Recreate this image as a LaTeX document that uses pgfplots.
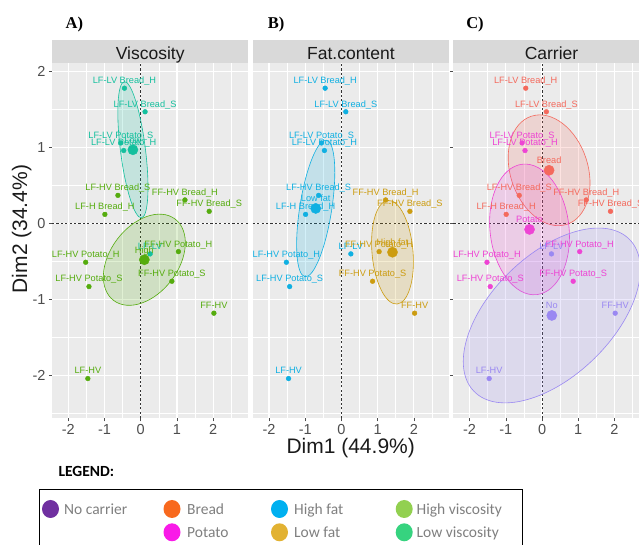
\documentclass[border=0pt]{standalone}
\usepackage{fontspec}
\setmainfont{Liberation Sans}
\newfontfamily\serifb{Liberation Serif}
\newfontfamily\carlito{Carlito}
\usepackage{pgfplots}
\pgfplotsset{compat=1.18}

\definecolor{panelbg}{HTML}{EBEBEB}
\definecolor{stripbg}{HTML}{D9D9D9}
\definecolor{tickgray}{HTML}{4D4D4D}
\definecolor{titleblk}{HTML}{1A1A1A}
\definecolor{cHV}{HTML}{55AC0E}
\definecolor{cLV}{HTML}{14C09E}
\definecolor{cLF}{HTML}{10B0E2}
\definecolor{cHF}{HTML}{CC9C10}
\definecolor{cBR}{HTML}{F4695C}
\definecolor{cPO}{HTML}{EE44D4}
\definecolor{cNO}{HTML}{9A88F2}
\definecolor{lgNO}{HTML}{7030A0}
\definecolor{lgBR}{HTML}{F8691E}
\definecolor{lgPO}{HTML}{F91AE8}
\definecolor{lgHF}{HTML}{00B0F0}
\definecolor{lgLF}{HTML}{E2B232}
\definecolor{lgHV}{HTML}{92D050}
\definecolor{lgLV}{HTML}{36D37F}
\definecolor{lgtext}{HTML}{7F7F7F}

\tikzset{
  ell/.style={draw=#1, fill=#1, fill opacity=0.18, line width=0.6bp},
  zline/.style={draw=black!80, line width=0.75bp, dash pattern=on 2.2bp off 2.2bp},
}
\pgfplotsset{
  panel/.style={
    scale only axis, width=196.3bp, height=354.8bp, anchor=south west,
    xmin=-2.45, xmax=2.97, ymin=-2.563, ymax=2.105,
    clip=false,
    axis background/.style={fill=panelbg},
    axis line style={draw=none},
    xtick={-2,-1,0,1,2}, ytick={-2,-1,0,1,2},
    minor xtick={-1.5,-0.5,0.5,1.5,2.5},
    minor ytick={-2.5,-1.5,-0.5,0.5,1.5},
    grid=both,
    major grid style={white, line width=1.1bp},
    minor grid style={white, line width=0.55bp},
    tick align=outside, tick pos=left,
    major tick length=3bp, minor tick length=0pt,
    tick style={color=tickgray, line width=0.55bp},
    xticklabels={-2,-1,0,1,2},
    ticklabel style={font=\fontsize{14.5bp}{16bp}\selectfont, text=tickgray},
  },
  ind/.style={only marks, color=#1, mark=*, mark size=2.4bp,
    mark options={solid, draw=#1, fill=#1},
    point meta=explicit symbolic, nodes near coords,
    nodes near coords style={font=\fontsize{9.2bp}{10bp}\selectfont, text=#1, anchor=base, inner sep=0pt, yshift=4.6bp}},
  cen/.style={only marks, color=#1, mark=*, mark size=5.1bp,
    mark options={solid, draw=#1, fill=#1},
    point meta=explicit symbolic, nodes near coords,
    nodes near coords style={font=\fontsize{9.2bp}{10bp}\selectfont, text=#1, anchor=base, inner sep=0pt, yshift=6.5bp}},
}

\begin{document}
\begin{tikzpicture}
\useasboundingbox (0,0) rectangle (639bp,545bp);

% ---------------- Panel A: Viscosity ----------------
\begin{axis}[panel, at={(52bp,126.7bp)}, yticklabels={-2,-1,0,1,2}]
\addplot[zline] coordinates {(0,-2.563) (0,2.105)};
\addplot[zline] coordinates {(-2.45,0) (2.97,0)};
\draw[ell=cLV] (axis cs:-0.216,0.97) ellipse [x radius=68.6bp, y radius=12.5bp, rotate=97.2];
\draw[ell=cHV] (axis cs:0.10,-0.477) ellipse [x radius=51bp, y radius=34bp, rotate=53];
\addplot[ind=cLV] coordinates {(-0.45,1.78) [LF-LV Bread\_H] (0.12,1.47) [LF-LV Bread\_S] (-0.55,1.06) [LF-LV Potato\_S] (-0.47,0.96) [LF-LV Potato\_H] (0.26,-0.40) [LF-LV]};
\addplot[ind=cHV] coordinates {(-0.63,0.37) [LF-HV Bread\_S] (1.22,0.31) [FF-HV Bread\_H] (-0.99,0.12) [LF-H Bread\_H] (1.89,0.16) [FF-HV Bread\_S] (1.04,-0.37) [FF-HV Potato\_H] (-1.52,-0.51) [LF-HV Potato\_H] (-1.43,-0.83) [LF-HV Potato\_S] (0.86,-0.76) [FF-HV Potato\_S] (2.02,-1.18) [FF-HV] (-1.46,-2.04) [LF-HV]};
\addplot[cen=cLV] coordinates {(-0.216,0.97) [Low]};
\addplot[cen=cHV] coordinates {(0.10,-0.477) [High]};
\end{axis}

% ---------------- Panel B: Fat.content ----------------
\begin{axis}[panel, at={(252.7bp,126.7bp)}, yticklabels={}, ytick style={draw=none}]
\addplot[zline] coordinates {(0,-2.563) (0,2.105)};
\addplot[zline] coordinates {(-2.45,0) (2.97,0)};
\draw[ell=cLF] (axis cs:-0.71,0.198) ellipse [x radius=69.1bp, y radius=16bp, rotate=81.1];
\draw[ell=cHF] (axis cs:1.41,-0.378) ellipse [x radius=52bp, y radius=20.5bp, rotate=95];
\addplot[ind=cLF] coordinates {(-0.45,1.78) [LF-LV Bread\_H] (0.12,1.47) [LF-LV Bread\_S] (-0.55,1.06) [LF-LV Potato\_S] (-0.47,0.96) [LF-LV Potato\_H] (0.26,-0.40) [LF-LV] (-0.63,0.37) [LF-HV Bread\_S] (-0.99,0.12) [LF-H Bread\_H] (-1.52,-0.51) [LF-HV Potato\_H] (-1.43,-0.83) [LF-HV Potato\_S] (-1.46,-2.04) [LF-HV]};
\addplot[ind=cHF] coordinates {(1.22,0.31) [FF-HV Bread\_H] (1.89,0.16) [FF-HV Bread\_S] (1.04,-0.37) [FF-HV Potato\_H] (0.86,-0.76) [FF-HV Potato\_S] (2.02,-1.18) [FF-HV]};
\addplot[cen=cLF] coordinates {(-0.71,0.198) [Low fat]};
\addplot[cen=cHF] coordinates {(1.41,-0.378) [High fat]};
\end{axis}

% ---------------- Panel C: Carrier ----------------
\begin{axis}[panel, at={(453.3bp,126.7bp)}, yticklabels={}]
\addplot[zline] coordinates {(0,-2.563) (0,2.105)};
\addplot[zline] coordinates {(-2.45,0) (2.97,0)};
\draw[ell=cBR] (axis cs:0.195,0.70) ellipse [x radius=56.9bp, y radius=38.8bp, rotate=108.2];
\draw[ell=cPO] (axis cs:-0.345,-0.078) ellipse [x radius=65.6bp, y radius=39.5bp, rotate=96.3];
\draw[ell=cNO] (axis cs:0.27,-1.21) ellipse [x radius=108.7bp, y radius=60.5bp, rotate=44.3];
\addplot[ind=cBR] coordinates {(-0.45,1.78) [LF-LV Bread\_H] (0.12,1.47) [LF-LV Bread\_S] (-0.63,0.37) [LF-HV Bread\_S] (1.22,0.31) [FF-HV Bread\_H] (-0.99,0.12) [LF-H Bread\_H] (1.89,0.16) [FF-HV Bread\_S]};
\addplot[ind=cPO] coordinates {(-0.55,1.06) [LF-LV Potato\_S] (-0.47,0.96) [LF-LV Potato\_H] (1.04,-0.37) [FF-HV Potato\_H] (-1.52,-0.51) [LF-HV Potato\_H] (-1.43,-0.83) [LF-HV Potato\_S] (0.86,-0.76) [FF-HV Potato\_S]};
\addplot[ind=cNO] coordinates {(0.26,-0.40) [LF-LV] (2.02,-1.18) [FF-HV] (-1.46,-2.04) [LF-HV]};
\addplot[cen=cBR] coordinates {(0.195,0.70) [Bread]};
\addplot[cen=cPO] coordinates {(-0.345,-0.078) [Potato]};
\addplot[cen=cNO] coordinates {(0.27,-1.21) [No]};
\end{axis}

% strips
\fill[stripbg] (52bp,481.5bp) rectangle (248.3bp,505bp);
\fill[stripbg] (252.7bp,481.5bp) rectangle (449bp,505bp);
\fill[stripbg] (453.3bp,481.5bp) rectangle (649.6bp,505bp);
\node[anchor=base, inner sep=0pt, text=titleblk, font=\fontsize{17.5bp}{20bp}\selectfont] at (150.2bp,485.3bp) {Viscosity};
\node[anchor=base, inner sep=0pt, text=titleblk, font=\fontsize{17.5bp}{20bp}\selectfont] at (350.9bp,485.3bp) {Fat.content};
\node[anchor=base, inner sep=0pt, text=titleblk, font=\fontsize{17.5bp}{20bp}\selectfont] at (551.5bp,485.3bp) {Carrier};

% panel letters
\node[anchor=base, inner sep=0pt, font=\serifb\bfseries\fontsize{16.5bp}{18bp}\selectfont] at (74.3bp,516.7bp) {A)};
\node[anchor=base, inner sep=0pt, font=\serifb\bfseries\fontsize{16.5bp}{18bp}\selectfont] at (276bp,516.7bp) {B)};
\node[anchor=base, inner sep=0pt, font=\serifb\bfseries\fontsize{16.5bp}{18bp}\selectfont] at (475bp,516.7bp) {C)};

% axis titles
\node[anchor=base, inner sep=0pt, text=titleblk, font=\fontsize{21bp}{24bp}\selectfont] at (350.7bp,91.3bp) {Dim1 (44.9\%)};
\node[anchor=base, rotate=90, inner sep=0pt, text=titleblk, font=\fontsize{21bp}{24bp}\selectfont] at (27.1bp,316bp) {Dim2 (34.4\%)};

% legend
\node[anchor=west, inner sep=0pt, font=\carlito\bfseries\fontsize{15.5bp}{17bp}\selectfont] at (58.3bp,73.3bp) {LEGEND:};
\draw[black, line width=1bp] (39.5bp,55.7bp) rectangle (522.4bp,-5bp);
\fill[lgNO] (50.5bp,36bp) ellipse [x radius=8.5bp, y radius=9bp];
\fill[lgBR] (172bp,36bp) ellipse [x radius=8.5bp, y radius=9bp];
\fill[lgPO] (172bp,12.7bp) ellipse [x radius=8.5bp, y radius=9bp];
\fill[lgHF] (279.5bp,36bp) ellipse [x radius=8.5bp, y radius=9bp];
\fill[lgLF] (279.5bp,12.7bp) ellipse [x radius=8.5bp, y radius=9bp];
\fill[lgHV] (404.2bp,36bp) ellipse [x radius=8.5bp, y radius=9bp];
\fill[lgLV] (404.2bp,12.7bp) ellipse [x radius=8.5bp, y radius=9bp];
\begin{scope}[every node/.style={anchor=base west, inner sep=0pt, text=lgtext, font=\carlito\fontsize{15.5bp}{17bp}\selectfont}]
\node at (64bp,31bp) {No carrier};
\node at (187bp,31bp) {Bread};
\node at (187bp,7.7bp) {Potato};
\node at (294bp,31bp) {High fat};
\node at (294bp,7.7bp) {Low fat};
\node at (416.5bp,31bp) {High viscosity};
\node at (416.5bp,7.7bp) {Low viscosity};
\end{scope}
\end{tikzpicture}
\end{document}
